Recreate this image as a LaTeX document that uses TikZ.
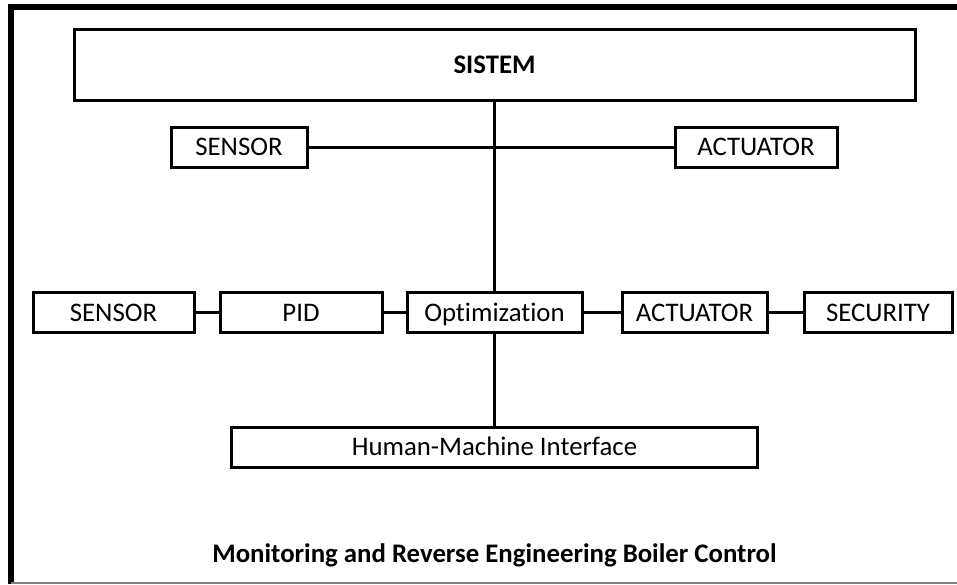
\documentclass[tikz,border=0pt]{standalone}
\usepackage{fontspec}
\setmainfont{Carlito}[Ligatures=CommonOff]
\usetikzlibrary{positioning}

\begin{document}
\begin{tikzpicture}[x=0.5pt,y=-0.5pt,
	box/.style={draw,line width=1.5pt,fill=white,inner sep=0pt,minimum height=20pt,text height=8.6pt,text depth=0pt,font=\fontsize{13.4}{15}\selectfont},
	link/.style={line width=1.5pt}
]
\useasboundingbox (0,0) rectangle (957,584);
% page frame
\draw[line width=3pt] (11,584) -- (11,7) -- (957,7);
\draw[gray,line width=1pt] (11,582.5) -- (957,582.5);

\node[box,minimum width=420.5pt,minimum height=35.5pt,font=\fontsize{13.4}{15}\selectfont\bfseries] (sys) at (494.5,64.5) {SISTEM};
\node[box,minimum width=68pt] (sensA) at (239,147) {SENSOR};
\node[box,minimum width=81pt] (actA) at (756,147) {ACTUATOR};

% middle row
\node[box,minimum width=80.5pt] (sensB) at (113.5,312.5) {SENSOR};
\node[box,minimum width=81pt] (pid) at (301,312.5) {PID};
\node[box,minimum width=87.5pt] (opt) at (494.5,312.5) {Optimization};
\node[box,minimum width=72.5pt] (actB) at (694.5,312.5) {ACTUATOR};
\node[box,minimum width=74pt] (sec) at (878,312.5) {SECURITY};

\node[box,minimum width=263pt] (hmi) at (494.5,447) {Human-Machine Interface};

\node[font=\fontsize{13.4}{15}\selectfont\bfseries] (cap) at (494.5,555) {Monitoring and Reverse Engineering Boiler Control};

\draw[link] (sensA) -- (actA);
\draw[link] (sys) -- (opt);
\draw[link] (opt) -- (hmi);
\draw[link] (sensB) -- (pid);
\draw[link] (pid) -- (opt);
\draw[link] (opt) -- (actB);
\draw[link] (actB) -- (sec);
\end{tikzpicture}
\end{document}
